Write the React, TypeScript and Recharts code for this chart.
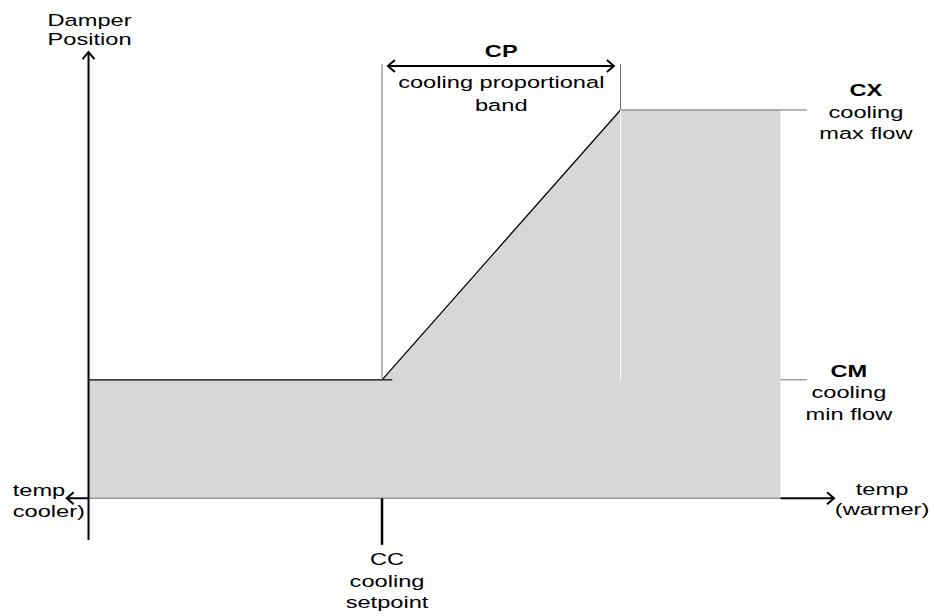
import React from 'react';
import {
  ComposedChart,
  Area,
  Line,
  XAxis,
  YAxis,
  ReferenceLine,
  ReferenceDot,
} from 'recharts';

// temperature (arbitrary units) and damper position (% of range)
const temps = [0, 40, 72.5, 94.3];
const damper = [30.5, 30.5, 100, 100];
const edge = [30.5, 30.5, 100, null];

const setpoint = 40;
const bandEnd = 72.5;
const areaEnd = 94.3;
const labelTick = 97.9;
const axisLeft = -2.97;
const axisRight = 101.6;
const minFlow = 30.5;
const maxFlow = 100;
const yAxisTop = 114.9;
const yAxisBottom = -10.74;
const ccTickBottom = -12;
const bandTop = 111.8;
const bandArrowY = 111.3;
const bandArrowFrom = 40.8;
const bandArrowTo = 71.6;

const yTitle = ['Damper', 'Position'];
const cpLabel = ['CP', 'cooling proportional', 'band'];
const cxLabel = ['CX', 'cooling', 'max flow'];
const cmLabel = ['CM', 'cooling', 'min flow'];
const ccLabel = ['CC', 'cooling', 'setpoint'];
const coolLabel = ['temp', 'cooler)'];
const warmLabel = ['temp', '(warmer)'];

const data = temps.map((t, i) => ({ t, damper: damper[i], edge: edge[i] }));

const FONT = '"Liberation Sans", Arial, sans-serif';
const SX = 1.45;
const GRAY = '#6e6e6e';

const arrow = (both: boolean, width: number) => (p: any) => {
  const { x1, y1, x2, y2 } = p;
  const len = Math.hypot(x2 - x1, y2 - y1) || 1;
  const ux = (x2 - x1) / len;
  const uy = (y2 - y1) / len;
  const head = (tx: number, ty: number, dx: number, dy: number) => {
    const bx = tx - dx * 7;
    const by = ty - dy * 7;
    return `M${bx - dy * 6},${by + dx * 6}L${tx},${ty}L${bx + dy * 6},${by - dx * 6}`;
  };
  let d = head(x2, y2, ux, uy);
  if (both) d += head(x1, y1, -ux, -uy);
  return (
    <g>
      <line x1={x1} y1={y1} x2={x2} y2={y2} stroke="#000" strokeWidth={width} />
      <path d={d} fill="none" stroke="#000" strokeWidth={width} />
    </g>
  );
};

const label =
  (lines: string[], dx: number, baselines: number[], anchor = 'middle', boldFirst = false) =>
  (p: any) => (
    <g>
      {lines.map((s, i) => (
        <text
          key={i}
          transform={`translate(${p.cx + dx},${p.cy + baselines[i]}) scale(${SX},1)`}
          textAnchor={anchor}
          fontFamily={FONT}
          fontSize={16.3}
          fontWeight={boldFirst && i === 0 ? 700 : 400}
          fill="#000"
        >
          {s}
        </text>
      ))}
    </g>
  );

export default function App() {
  return (
    <div style={{ position: 'absolute', left: 0, top: 0, background: '#fff' }}>
      <ComposedChart
        width={934}
        height={616}
        data={data}
        margin={{ top: 49.8, right: 98.5, bottom: 70, left: 66.5 }}
      >
        <XAxis hide type="number" dataKey="t" domain={[-3, 101.8]} allowDataOverflow />
        <YAxis hide type="number" domain={[-12.3, 115.5]} allowDataOverflow />
        <Area
          type="linear"
          dataKey="damper"
          baseValue={0}
          fill="#d7d7d7"
          fillOpacity={1}
          stroke="none"
          isAnimationActive={false}
        />
        <Line
          type="linear"
          dataKey="edge"
          stroke="#000"
          strokeWidth={1.2}
          dot={false}
          isAnimationActive={false}
        />

        {/* guide lines */}
        <ReferenceLine
          segment={[{ x: setpoint, y: minFlow }, { x: setpoint + 1.4, y: minFlow }]}
          stroke="#000"
          strokeWidth={1.2}
          ifOverflow="visible"
        />
        <ReferenceLine
          segment={[{ x: setpoint, y: minFlow }, { x: setpoint, y: bandTop }]}
          stroke={GRAY}
          strokeWidth={1}
          ifOverflow="visible"
        />
        <ReferenceLine
          segment={[{ x: bandEnd, y: maxFlow }, { x: bandEnd, y: bandTop }]}
          stroke={GRAY}
          strokeWidth={1}
          ifOverflow="visible"
        />
        <ReferenceLine
          segment={[{ x: bandEnd, y: minFlow }, { x: bandEnd, y: maxFlow }]}
          stroke="#fff"
          strokeWidth={1}
          ifOverflow="visible"
        />
        <ReferenceLine
          segment={[{ x: bandEnd, y: maxFlow }, { x: labelTick, y: maxFlow }]}
          stroke={GRAY}
          strokeWidth={1}
          ifOverflow="visible"
        />
        <ReferenceLine
          segment={[{ x: areaEnd, y: minFlow }, { x: labelTick, y: minFlow }]}
          stroke={GRAY}
          strokeWidth={1}
          ifOverflow="visible"
        />
        <ReferenceLine
          segment={[{ x: 0, y: 0 }, { x: areaEnd, y: 0 }]}
          stroke={GRAY}
          strokeWidth={1}
          ifOverflow="visible"
        />

        {/* axes */}
        <ReferenceLine
          segment={[{ x: 0, y: yAxisBottom }, { x: 0, y: yAxisTop }]}
          ifOverflow="visible"
          shape={arrow(false, 2)}
        />
        <ReferenceLine
          segment={[{ x: 0, y: 0 }, { x: axisLeft, y: 0 }]}
          ifOverflow="visible"
          shape={arrow(false, 2)}
        />
        <ReferenceLine
          segment={[{ x: areaEnd, y: 0 }, { x: axisRight, y: 0 }]}
          ifOverflow="visible"
          shape={arrow(false, 2)}
        />
        <ReferenceLine
          segment={[{ x: setpoint, y: 0 }, { x: setpoint, y: ccTickBottom }]}
          stroke="#000"
          strokeWidth={2.5}
          ifOverflow="visible"
        />
        <ReferenceLine
          segment={[{ x: bandArrowFrom, y: bandArrowY }, { x: bandArrowTo, y: bandArrowY }]}
          ifOverflow="visible"
          shape={arrow(true, 2)}
        />

        {/* labels */}
        <ReferenceDot x={0} y={yAxisTop} r={0} ifOverflow="visible" shape={label(yTitle, 1, [-26.2, -6.7])} />
        <ReferenceDot
          x={(setpoint + bandEnd) / 2}
          y={bandArrowY}
          r={0}
          ifOverflow="visible"
          shape={label(cpLabel, 0, [-9.5, 22.1, 44.8], 'middle', true)}
        />
        <ReferenceDot
          x={labelTick}
          y={maxFlow}
          r={0}
          ifOverflow="visible"
          shape={label(cxLabel, 59, [-13.7, 7.6, 29], 'middle', true)}
        />
        <ReferenceDot
          x={labelTick}
          y={minFlow}
          r={0}
          ifOverflow="visible"
          shape={label(cmLabel, 42, [-3.2, 18.4, 40.1], 'middle', true)}
        />
        <ReferenceDot
          x={setpoint}
          y={ccTickBottom}
          r={0}
          ifOverflow="visible"
          shape={label(ccLabel, 5, [20, 42, 63.5])}
        />
        <ReferenceDot
          x={axisLeft}
          y={0}
          r={0}
          ifOverflow="visible"
          shape={label(coolLabel, -54, [-2.6, 18.4], 'start')}
        />
        <ReferenceDot
          x={axisRight}
          y={0}
          r={0}
          ifOverflow="visible"
          shape={label(warmLabel, 48, [-3.3, 16.7])}
        />
      </ComposedChart>
    </div>
  );
}
